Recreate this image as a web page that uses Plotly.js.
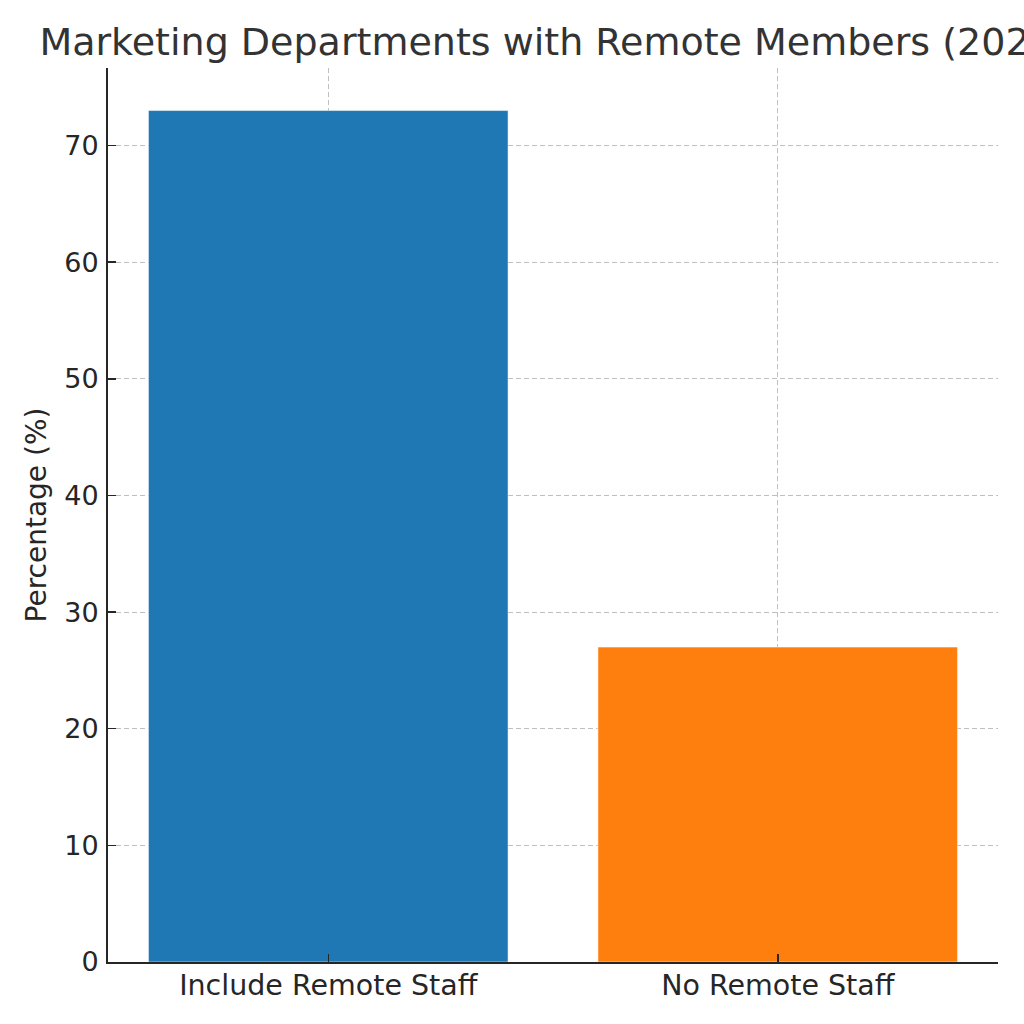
<!DOCTYPE html>
<html>
<head>
<meta charset="utf-8">
<script src="https://cdn.plot.ly/plotly-3.0.1.min.js"></script>
<style>
  html, body { margin: 0; padding: 0; background: #fff; }
  #chart { width: 1024px; height: 1024px; }
</style>
</head>
<body>
<div id="chart"></div>
<script>
// data
var categories = ['Include Remote Staff', 'No Remote Staff'];
var percentages = [73, 27];
var barColors = ['#1f77b4', '#ff7f0e'];
var yTicks = [0, 10, 20, 30, 40, 50, 60, 70];

var font = 'DejaVu Sans, sans-serif';
var gridColor = 'rgba(176,176,176,0.8)';

var trace = {
    type: 'bar',
    x: categories,
    y: percentages,
    width: 0.8,
    marker: {
        color: barColors,
        line: { color: 'rgba(255,255,255,0.5)', width: 1 }
    },
    hoverinfo: 'x+y'
};

var layout = {
    width: 1024,
    height: 1024,
    paper_bgcolor: '#fff',
    plot_bgcolor: '#fff',
    margin: { l: 108, r: 26, t: 68, b: 62 },
    showlegend: false,
    // the title runs past the right edge, as in the reference
    title: {
        text: 'Marketing Departments with Remote Members (2023)',
        font: { family: font, size: 38, color: '#333333' },
        xref: 'container',
        x: 554 / 1024,
        xanchor: 'center',
        yref: 'container',
        y: 1 - 42 / 1024,
        yanchor: 'middle'
    },
    xaxis: {
        type: 'category',
        range: [-0.49, 1.49],
        showline: true,
        linecolor: '#262626',
        linewidth: 2,
        ticks: 'inside',
        ticklen: 8,
        tickwidth: 1.5,
        tickcolor: '#262626',
        showgrid: true,
        gridcolor: gridColor,
        griddash: '5px,3px',
        gridwidth: 1,
        layer: 'above traces',
        tickfont: { family: font, size: 28.5, color: '#262626' },
        ticklabelstandoff: -3,
        zeroline: false
    },
    yaxis: {
        range: [0, 76.65],
        tickvals: yTicks,
        ticktext: yTicks.map(String),
        showline: true,
        linecolor: '#262626',
        linewidth: 2,
        ticks: 'inside',
        ticklen: 8,
        tickwidth: 1.5,
        tickcolor: '#262626',
        showgrid: true,
        gridcolor: gridColor,
        griddash: '5px,3px',
        gridwidth: 1,
        layer: 'above traces',
        zeroline: false,
        tickfont: { family: font, size: 27, color: '#262626' },
        ticklabelstandoff: 2,
        title: {
            text: 'Percentage (%)',
            font: { family: font, size: 28, color: '#262626' },
            standoff: 9
        }
    }
};

Plotly.newPlot('chart', [trace], layout, { displayModeBar: false, staticPlot: true });
</script>
</body>
</html>
